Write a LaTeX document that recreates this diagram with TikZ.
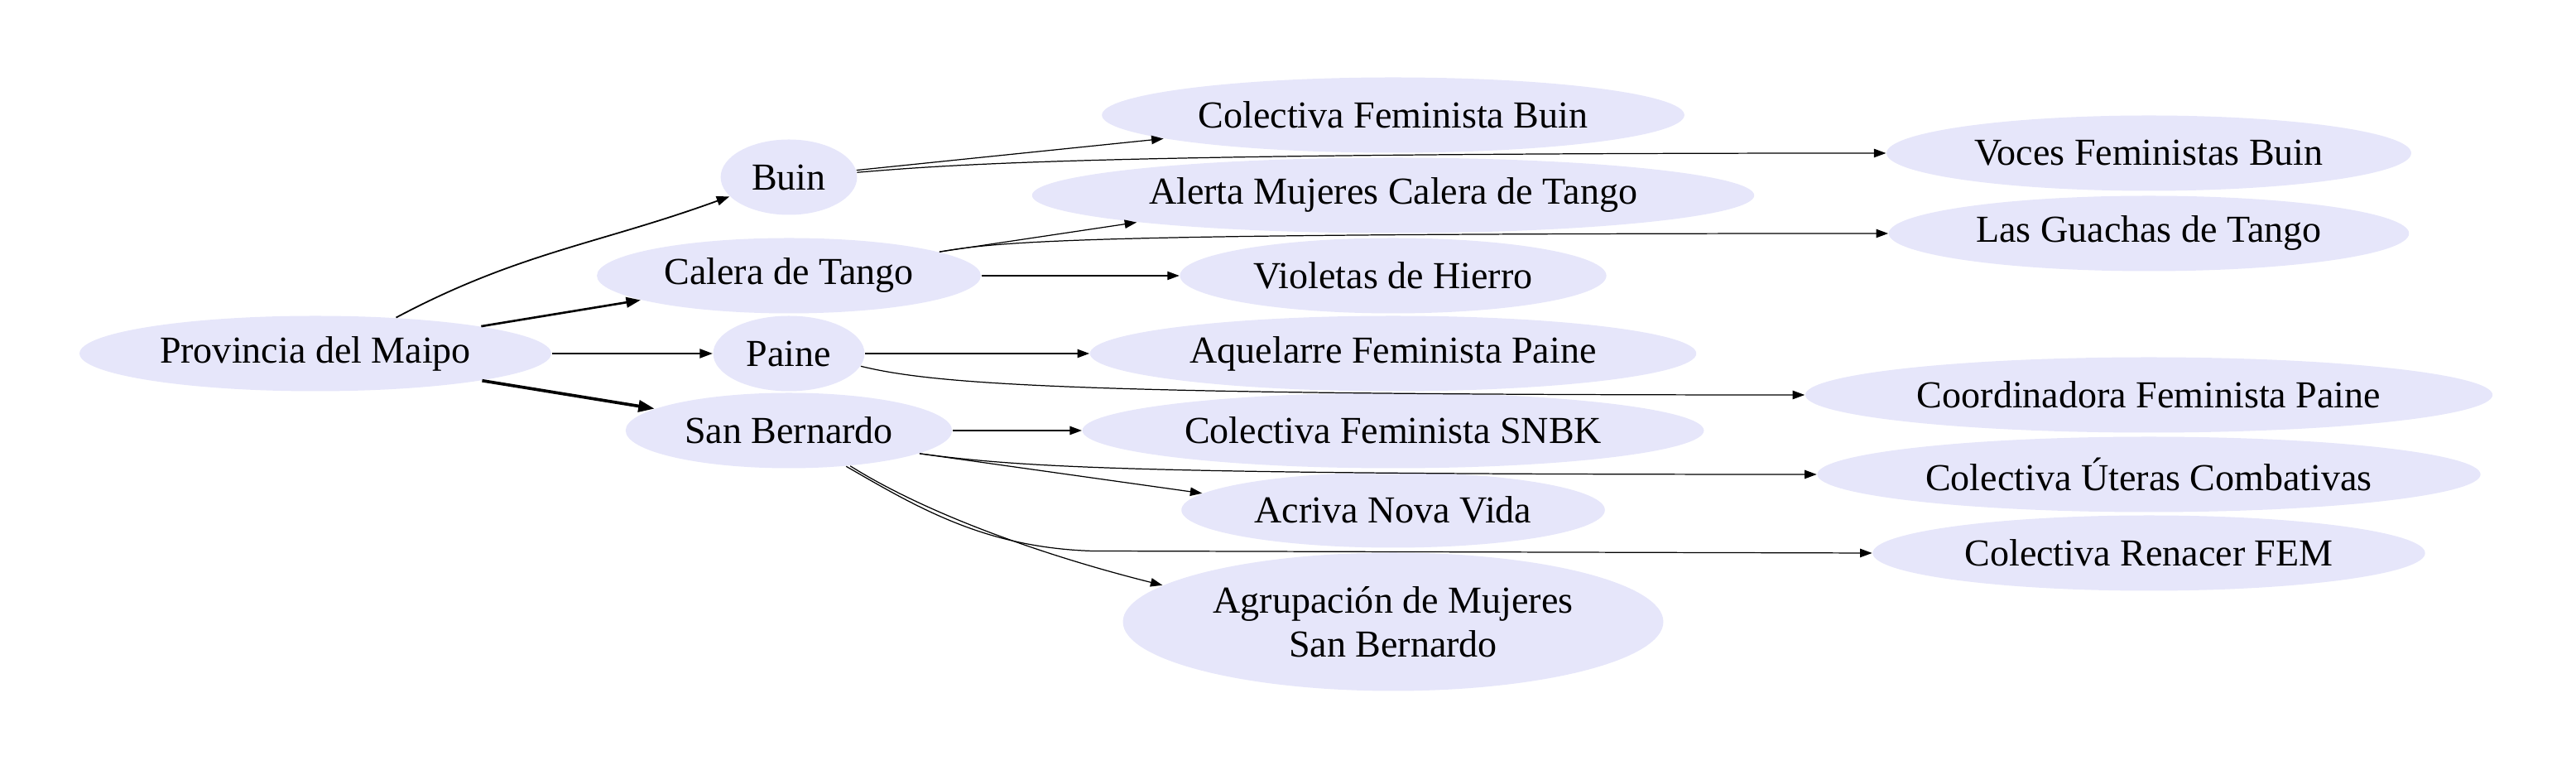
\documentclass[tikz,border=0pt]{standalone}
\usepackage{fontspec}
\setmainfont{Liberation Serif}
\usepackage{xcolor}
\usetikzlibrary{shapes,arrows.meta,positioning,calc}
\definecolor{lavanda}{HTML}{E6E6FA}

\begin{document}
\begin{tikzpicture}[
    comuna/.style={ellipse, fill=lavanda, inner xsep=0.135cm, inner ysep=0.1cm, minimum height=0.91cm, font=\fontsize{13.1}{15.1}\selectfont},
    org/.style={comuna},
    arrow/.style={-{Triangle[length=1.2mm 2, width=0.85mm 1.5]}, line width=#1},
    arrow/.default=0.35pt
]
\useasboundingbox (0,0) rectangle (31.12,9.30);

% Provincia
\node[comuna] (prov) at (3.81, 5.03) {Provincia del Maipo};

% Comunas
\node[comuna] (buin) at (9.53, 7.16) {Buin};
\node[comuna] (calera) at (9.53, 5.97) {Calera de Tango};
\node[comuna] (paine) at (9.53, 5.03) {Paine};
\node[comuna] (sanb) at (9.53, 4.10) {San Bernardo};

% Organizaciones (columna media)
\node[org] (cfbuin) at (16.83, 7.91) {Colectiva Feminista Buin};
\node[org] (alerta) at (16.83, 6.94) {Alerta Mujeres Calera de Tango};
\node[org] (violetas) at (16.83, 5.97) {Violetas de Hierro};
\node[org] (aquelarre) at (16.83, 5.03) {Aquelarre Feminista Paine};
\node[org] (snbk) at (16.83, 4.10) {Colectiva Feminista SNBK};
\node[org] (acriva) at (16.83, 3.14) {Acriva Nova Vida};
\node[org, align=center, minimum height=1.67cm] (agrup) at (16.83, 1.79) {Agrupación de Mujeres\\San Bernardo};

% Organizaciones (columna derecha)
\node[org] (voces) at (25.96, 7.45) {Voces Feministas Buin};
\node[org] (guachas) at (25.96, 6.48) {Las Guachas de Tango};
\node[org] (coord) at (25.96, 4.53) {Coordinadora Feminista Paine};
\node[org] (uteras) at (25.96, 3.57) {Colectiva Úteras Combativas};
\node[org] (renacer) at (25.96, 2.62) {Colectiva Renacer FEM};

% Provincia -> comunas
\draw[arrow=0.5pt] (prov.24) to[out=28, in=200] (buin.198);
\draw[arrow=0.75pt] (prov) -- (calera);
\draw[arrow=0.5pt] (prov) -- (paine);
\draw[arrow=1.05pt] (prov) -- (sanb);

% Buin
\draw[arrow] (buin) -- (cfbuin);
\draw[arrow] (buin.4) .. controls +(1.1,0.09) and +(-9.7,0) .. (voces.west);

% Calera de Tango
\draw[arrow] (calera.9) -- (alerta.186);
\draw[arrow] (calera.9) .. controls +(0.8,0.14) and +(-9.5,0) .. (guachas.west);
\draw[arrow] (calera) -- (violetas);

% Paine
\draw[arrow] (paine) -- (aquelarre);
\draw[arrow] (paine.-10) .. controls +(0.9,-0.22) and +(-8.8,0) .. (coord.west);

% San Bernardo
\draw[arrow] (sanb) -- (snbk);
\draw[arrow] (sanb.-10) -- (acriva.175);
\draw[arrow] (sanb.-10) .. controls +(1.2,-0.16) and +(-8.4,0) .. (uteras.west);
\coordinate (rbend) at (13.2, 2.645);
\draw[arrow] (sanb.-32) .. controls +(-30:1) and +(-1.3,0.04) .. (rbend) -- (renacer.west);
\draw[arrow] (sanb.-30) .. controls +(-32:1.2) and +(166:1.3) .. (agrup.171);

\end{tikzpicture}
\end{document}
